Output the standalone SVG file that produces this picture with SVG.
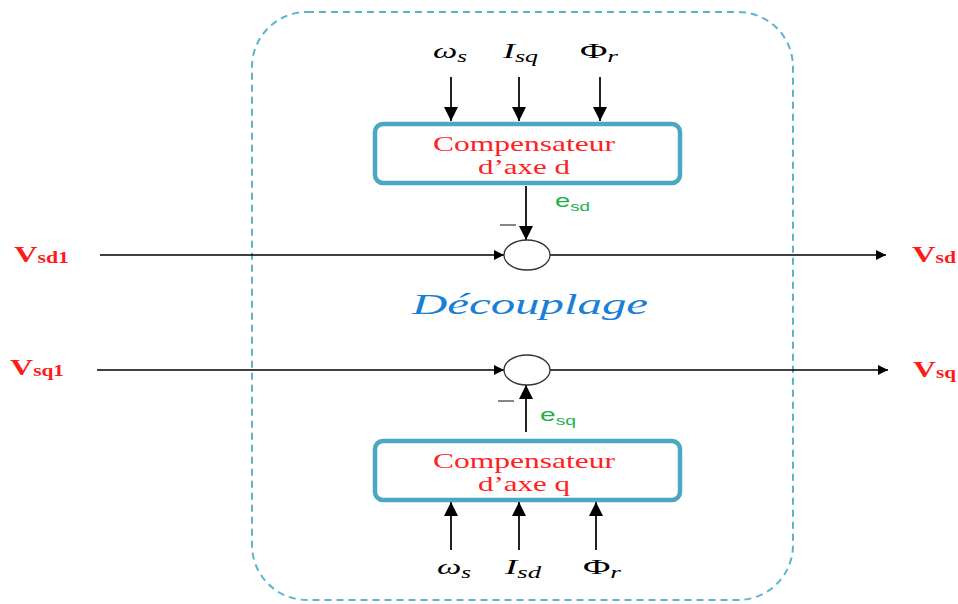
<svg xmlns="http://www.w3.org/2000/svg" width="958" height="604" viewBox="0 0 958 604">
<style>
.box{fill:#fff;stroke:#4aa8c3;stroke-width:4.5}
.ln{stroke:#000;stroke-width:1.3;fill:none}
.vln{stroke:#222;stroke-width:2;fill:none}
.comp{font-family:"Liberation Serif",serif;font-size:21px;fill:#ff2020;text-anchor:middle}
.var{font-family:"Liberation Serif",serif;font-style:italic;font-size:22px;fill:#000}
.up{font-style:normal}
.sub{font-size:16px;font-style:italic}
.vl{font-family:"Liberation Serif",serif;font-weight:bold;font-size:24px;fill:#ff1a1a}
.vs{font-size:16px}
.e{font-family:"Liberation Sans",sans-serif;font-size:19px;fill:#22b04a}
.es{font-size:13px}
</style>
<defs>
<marker id="ah" viewBox="0 0 10 10" refX="10" refY="5" markerWidth="14" markerHeight="10" markerUnits="userSpaceOnUse" orient="auto"><path d="M0,0 L10,5 L0,10 z" fill="#000"/></marker>
<marker id="ahv" viewBox="0 0 10 10" refX="10" refY="5" markerWidth="14" markerHeight="15" markerUnits="userSpaceOnUse" orient="auto"><path d="M0,0 L10,5 L0,10 z" fill="#000"/></marker>
</defs>
<rect x="252" y="12" width="541" height="588" rx="55" ry="55" fill="none" stroke="#5ab4d0" stroke-width="2" stroke-dasharray="7,5"/>
<g id="connectors">
<line class="vln" x1="451" y1="77" x2="451" y2="121" marker-end="url(#ahv)"/>
<line class="vln" x1="519" y1="77" x2="519" y2="121" marker-end="url(#ahv)"/>
<line class="vln" x1="600" y1="77" x2="600" y2="121" marker-end="url(#ahv)"/>
<line class="vln" x1="526" y1="186" x2="526" y2="240" marker-end="url(#ahv)"/>
<line class="ln" x1="100" y1="255" x2="504" y2="255" marker-end="url(#ah)"/>
<line class="ln" x1="550" y1="255" x2="886" y2="255" marker-end="url(#ah)"/>
<line class="ln" x1="97" y1="370" x2="504" y2="370" marker-end="url(#ah)"/>
<line class="ln" x1="550" y1="370" x2="888" y2="370" marker-end="url(#ah)"/>
<line class="vln" x1="526" y1="432" x2="526" y2="385" marker-end="url(#ahv)"/>
<line class="vln" x1="451" y1="550" x2="451" y2="502" marker-end="url(#ahv)"/>
<line class="vln" x1="519" y1="550" x2="519" y2="502" marker-end="url(#ahv)"/>
<line class="vln" x1="596" y1="550" x2="596" y2="502" marker-end="url(#ahv)"/>
</g>
<g id="comp-d">
<rect class="box" x="375" y="124" width="305" height="59" rx="8"/>
<text class="comp" x="524" y="151" textLength="182" lengthAdjust="spacingAndGlyphs">Compensateur</text>
<text class="comp" x="524" y="174" textLength="92" lengthAdjust="spacingAndGlyphs">d’axe d</text>
</g>
<g id="comp-q">
<rect class="box" x="375" y="441" width="305" height="59" rx="8"/>
<text class="comp" x="524" y="468" textLength="182" lengthAdjust="spacingAndGlyphs">Compensateur</text>
<text class="comp" x="524" y="491" textLength="92" lengthAdjust="spacingAndGlyphs">d’axe q</text>
</g>
<g id="sum-d">
<ellipse cx="527" cy="255" rx="23" ry="15" fill="#fff" stroke="#333" stroke-width="1.3"/>
<line x1="500" y1="225" x2="516" y2="225" stroke="#444" stroke-width="1.3"/>
<text class="e" x="555" y="207" textLength="35" lengthAdjust="spacingAndGlyphs">e<tspan class="es" dy="4">sd</tspan></text>
</g>
<g id="sum-q">
<ellipse cx="527" cy="370" rx="23" ry="15" fill="#fff" stroke="#333" stroke-width="1.3"/>
<line x1="498" y1="401" x2="514" y2="401" stroke="#444" stroke-width="1.3"/>
<text class="e" x="540" y="421" textLength="36" lengthAdjust="spacingAndGlyphs">e<tspan class="es" dy="4">sq</tspan></text>
</g>
<g id="inputs-top">
<text class="var" x="433" y="58" textLength="34" lengthAdjust="spacingAndGlyphs">ω<tspan class="sub" dy="4">s</tspan></text>
<text class="var" x="503" y="58" textLength="35" lengthAdjust="spacingAndGlyphs">I<tspan class="sub" dy="4">sq</tspan></text>
<text class="var up" x="580" y="58" textLength="38" lengthAdjust="spacingAndGlyphs">Φ<tspan class="sub" dy="4">r</tspan></text>
</g>
<g id="inputs-bottom">
<text class="var" x="437" y="574" textLength="34" lengthAdjust="spacingAndGlyphs">ω<tspan class="sub" dy="4">s</tspan></text>
<text class="var" x="505" y="574" textLength="36" lengthAdjust="spacingAndGlyphs">I<tspan class="sub" dy="4">sd</tspan></text>
<text class="var up" x="583" y="574" textLength="38" lengthAdjust="spacingAndGlyphs">Φ<tspan class="sub" dy="4">r</tspan></text>
</g>
<g id="labels">
<text class="vl" x="14" y="262" textLength="55" lengthAdjust="spacingAndGlyphs">V<tspan class="vs" dy="1">sd1</tspan></text>
<text class="vl" x="912" y="262" textLength="44" lengthAdjust="spacingAndGlyphs">V<tspan class="vs" dy="1">sd</tspan></text>
<text class="vl" x="10" y="375" textLength="54" lengthAdjust="spacingAndGlyphs">V<tspan class="vs" dy="1">sq1</tspan></text>
<text class="vl" x="913" y="377" textLength="43" lengthAdjust="spacingAndGlyphs">V<tspan class="vs" dy="1">sq</tspan></text>
</g>
<text x="530" y="314" font-family="Liberation Serif,serif" font-style="italic" font-size="30" fill="#1a7fd6" text-anchor="middle" textLength="236" lengthAdjust="spacingAndGlyphs">Découplage</text>
</svg>
